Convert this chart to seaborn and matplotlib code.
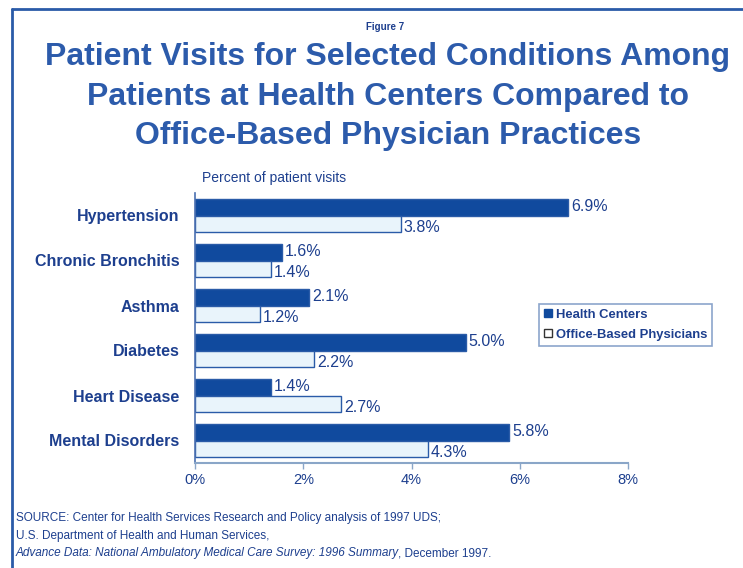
import matplotlib
matplotlib.use("Agg")
import matplotlib.pyplot as plt
from matplotlib.lines import Line2D
import seaborn as sns
import pandas as pd

conditions = ["Hypertension", "Chronic Bronchitis", "Asthma", "Diabetes",
              "Heart Disease", "Mental Disorders"]
health_centers = [6.9, 1.6, 2.1, 5.0, 1.4, 5.8]
office_based = [3.8, 1.4, 1.2, 2.2, 2.7, 4.3]
series_names = ["Health Centers", "Office-Based Physicians"]
x_ticks = [0, 2, 4, 6, 8]
x_tick_labels = ["0%", "2%", "4%", "6%", "8%"]

title_lines = ["Patient Visits for Selected Conditions Among",
               "Patients at Health Centers Compared to",
               "Office-Based Physician Practices"]

DARK = "#104a9e"
LIGHT = "#e9f4fb"
EDGE = "#2a5ba8"
TEXT = "#1d3f8e"
TITLE = "#2c5bab"

sns.set_theme(style="white")
plt.rcParams['font.family'] = ['Liberation Sans', 'DejaVu Sans']

df = pd.DataFrame({
    "condition": conditions * 2,
    "pct": health_centers + office_based,
    "group": [series_names[0]] * len(conditions) + [series_names[1]] * len(conditions),
})

fig = plt.figure(figsize=(7.43, 5.68), dpi=100)
fig.patch.set_facecolor("white")
ax = fig.add_axes([195 / 743, 1 - 463 / 568, (628 - 195) / 743, (463 - 193) / 568])

sns.barplot(data=df, y="condition", x="pct", hue="group", orient="h",
            order=conditions, hue_order=series_names,
            palette=[DARK, LIGHT], width=0.75, ax=ax, legend=False,
            edgecolor=EDGE, linewidth=1.0, saturation=1)

ax.set_xlim(0, 8)
ax.set_ylim(5.5, -0.5)
ax.set_xticks(x_ticks)
ax.set_xticklabels(x_tick_labels)
ax.set_xlabel("")
ax.set_ylabel("")
for s in ["top", "right"]:
    ax.spines[s].set_visible(False)
ax.spines["left"].set_color("#4a6fb0")
ax.spines["bottom"].set_color("#8aa6c8")
ax.spines["left"].set_linewidth(1.2)
ax.spines["bottom"].set_linewidth(1.5)
ax.tick_params(axis="x", length=4, width=1, color="#8aa6c8", colors=TEXT,
               labelsize=10.5, pad=3, direction="out", bottom=True)
ax.tick_params(axis="y", length=0, pad=11, labelsize=11.5, labelcolor=TEXT)
for lab in ax.get_yticklabels():
    lab.set_fontweight("bold")
for lab in ax.get_xticklabels():
    lab.set_color(TEXT)

# value labels
for i, v in enumerate(health_centers):
    ax.text(v + 0.06, i - 0.19, f"{v:.1f}%", va="center", ha="left",
            fontsize=11.5, color=TEXT)
for i, v in enumerate(office_based):
    ax.text(v + 0.06, i + 0.27, f"{v:.1f}%", va="center", ha="left",
            fontsize=11.5, color=TEXT)

# legend
handles = [Line2D([], [], marker="s", linestyle="none", markersize=6,
                  markerfacecolor=DARK, markeredgecolor=DARK),
           Line2D([], [], marker="s", linestyle="none", markersize=6,
                  markerfacecolor="white", markeredgecolor="#333333")]
leg = fig.legend(handles, series_names, loc="upper left",
                 bbox_to_anchor=(532 / 743, 1 - 297 / 568),
                 frameon=True, fancybox=False, handlelength=0.6,
                 handletextpad=0.3, borderpad=0.4, labelspacing=0.6,
                 prop={"weight": "bold", "size": 9.4})
leg.get_frame().set_edgecolor("#6f8fbf")
leg.get_frame().set_linewidth(1.2)
for t in leg.get_texts():
    t.set_color(TEXT)

# titles
fig.text(385 / 743, 1 - 27 / 568, "Figure 7", ha="center", va="center",
         fontsize=7, fontweight="bold", color=TEXT)
for y, line in zip([57, 97, 136], title_lines):
    fig.text(388 / 743, 1 - y / 568, line, ha="center", va="center",
             fontsize=23, fontweight="bold", color=TITLE)

fig.text(202 / 743, 1 - 178 / 568, "Percent of patient visits", ha="left",
         va="center", fontsize=10, color=TEXT)

# source
fig.text(16 / 743, 1 - 518 / 568,
         "SOURCE: Center for Health Services Research and Policy analysis of 1997 UDS;",
         ha="left", va="center", fontsize=8.5, color=TEXT)
fig.text(16 / 743, 1 - 536 / 568, "U.S. Department of Health and Human Services,",
         ha="left", va="center", fontsize=8.5, color=TEXT)
t_it = fig.text(16 / 743, 1 - 553 / 568,
                "Advance Data: National Ambulatory Medical Care Survey: 1996 Summary",
                ha="left", va="center", fontsize=8.5, color=TEXT, style="italic")
fig.canvas.draw()
bb = t_it.get_window_extent(renderer=fig.canvas.get_renderer())
fig.text((bb.x1 - 1) / fig.bbox.width, 1 - 553 / 568, ", December 1997.",
         ha="left", va="center", fontsize=8.5, color=TEXT)

# frame lines
fig.add_artist(Line2D([12 / 743, 12 / 743], [0, 1 - 9 / 568],
                      transform=fig.transFigure, color="#2a5ba8", linewidth=2))
fig.add_artist(Line2D([12 / 743, 1], [1 - 9 / 568, 1 - 9 / 568],
                      transform=fig.transFigure, color="#2a5ba8", linewidth=2))

fig.savefig("out.png", dpi=100)
